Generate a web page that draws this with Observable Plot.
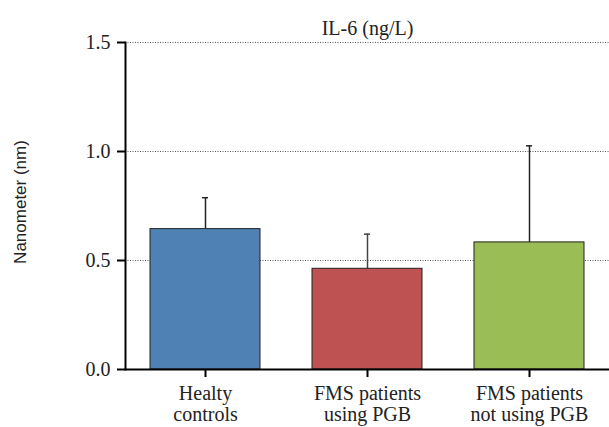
<!DOCTYPE html>
<html>
<head>
<meta charset="utf-8">
<script src="https://cdn.jsdelivr.net/npm/d3@7"></script>
<script src="https://cdn.jsdelivr.net/npm/@observablehq/plot@0.6"></script>
<style>
  body { margin: 0; background: #fff; }
</style>
</head>
<body>
<div id="chart"></div>
<script>
const groups = ["Healty\ncontrols", "FMS patients\nusing PGB", "FMS patients\nnot using PGB"];
const means = [0.644, 0.462, 0.583];
const errors = [0.144, 0.159, 0.443];
const colors = ["#4F81B5", "#BE5151", "#9BBD55"];
const errColors = ["#222", "#444", "#222"];
const yTicks = [0, 0.5, 1.0, 1.5];
const title = "IL-6 (ng/L)";
const yLabel = "Nanometer (nm)";

const data = groups.map((g, i) => ({group: g, mean: means[i], err: errors[i], top: means[i] + errors[i], color: colors[i], ecolor: errColors[i]}));

const chart = Plot.plot({
  width: 609,
  height: 427,
  marginLeft: 125,
  marginRight: 0,
  marginTop: 42,
  marginBottom: 58,
  style: {fontFamily: "'Liberation Serif', serif", fontSize: "20px", color: "#222", background: "#fff"},
  x: {type: "band", domain: groups, paddingInner: 0.32, paddingOuter: 0.15, label: null},
  y: {domain: [0, 1.5], label: null},
  marks: [
    Plot.gridY(yTicks, {stroke: "#555", strokeOpacity: 1, strokeWidth: 1, strokeDasharray: "1,1.5"}),
    Plot.ruleX(data, {x: "group", y1: "mean", y2: "top", stroke: "ecolor", strokeWidth: 1.5}),
    Plot.tickY(data, {x: "group", y: "top", stroke: "ecolor", strokeWidth: 1.5, insetLeft: 52, insetRight: 52}),
    Plot.barY(data, {x: "group", y: "mean", fill: "color", stroke: "#222", strokeWidth: 1}),
    Plot.ruleY([0], {stroke: "#000", strokeWidth: 2}),
    Plot.frame({anchor: "left", stroke: "#000", strokeWidth: 2}),
    Plot.axisY(yTicks, {tickSize: 8, tickPadding: 7, strokeWidth: 2, stroke: "#000", tickFormat: d => d.toFixed(1), fontSize: 20, fill: "#222", label: null}),
    Plot.axisX({tickSize: 8, tickPadding: 8, strokeWidth: 2, stroke: "#000", fontSize: 20, lineHeight: 1.05, fill: "#222", label: null}),
    Plot.text([title], {frameAnchor: "top", dy: -22, fontSize: 20, fill: "#222"}),
    Plot.text([yLabel], {frameAnchor: "left", textAnchor: "middle", rotate: -90, dx: -105, dy: -4, fontSize: 17, fill: "#222", fontFamily: "'Liberation Sans', sans-serif"})
  ]
});
document.getElementById("chart").appendChild(chart);
</script>
</body>
</html>
